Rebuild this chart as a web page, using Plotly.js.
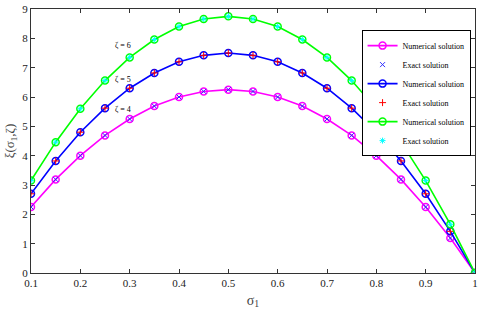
<!DOCTYPE html>
<html><head><meta charset="utf-8">
<script src="https://cdn.plot.ly/plotly-3.0.1.min.js"></script>
<style>body{margin:0;background:#fff}#c{width:480px;height:320px}</style>
</head><body><div id="c"></div>
<script>
const sigma = [0.1,0.15,0.2,0.25,0.3,0.35,0.4,0.45,0.5,0.55,0.6,0.65,0.7,0.75,0.8,0.85,0.9,0.95,1];
const xi4 = [2.25,3.19,4.0,4.69,5.25,5.69,6.0,6.19,6.25,6.19,6.0,5.69,5.25,4.69,4.0,3.19,2.25,1.19,0];
const xi5 = [2.7,3.82,4.8,5.62,6.3,6.82,7.2,7.42,7.5,7.42,7.2,6.82,6.3,5.62,4.8,3.82,2.7,1.42,0];
const xi6 = [3.15,4.46,5.6,6.56,7.35,7.96,8.4,8.66,8.75,8.66,8.4,7.96,7.35,6.56,5.6,4.46,3.15,1.66,0];
const xTicks = [0.1,0.2,0.3,0.4,0.5,0.6,0.7,0.8,0.9,1];
const xTickLabels = ['0.1','0.2','0.3','0.4','0.5','0.6','0.7','0.8','0.9','1'];
const yTicks = [0,1,2,3,4,5,6,7,8,9];
const curveLabels = ['ζ = 4','ζ = 5','ζ = 6'];
const labelPos = [[0.287,5.56],[0.287,6.61],[0.287,7.74]];

function num(y,color){return {x:sigma,y:y,mode:'lines+markers',name:'Numerical solution',
  line:{color:color,width:1.6},marker:{symbol:'circle-open',size:7,color:color,line:{width:1.5,color:color}}};}
function ex(y,color,sym){return {x:sigma,y:y,mode:'markers',name:'Exact solution',
  marker:{symbol:sym,size:5,color:color,line:{width:1,color:color}}};}
const data=[num(xi4,'#ff00ff'),ex(xi4,'#3030ff','x-thin-open'),
  num(xi5,'#0000ff'),ex(xi5,'#ff0000','cross-thin-open'),
  num(xi6,'#00ff00'),ex(xi6,'#00ffff','asterisk-open')];
const ann = curveLabels.map((t,i)=>({x:labelPos[i][0],y:labelPos[i][1],text:t,showarrow:false,
  font:{family:'Liberation Serif',size:8,color:'#000'}}));
const axBase={showline:true,linecolor:'#333',linewidth:1,mirror:'ticks',ticks:'inside',ticklen:4,tickcolor:'#333',
  showgrid:false,zeroline:false,tickfont:{family:'Liberation Serif',size:11,color:'#222'}};
const layout={width:480,height:320,margin:{l:31,r:5,t:9,b:47},paper_bgcolor:'#fff',plot_bgcolor:'#fff',
  showlegend:true,
  legend:{x:0.99,y:0.92,xanchor:'right',yanchor:'top',bgcolor:'#fff',bordercolor:'#000',borderwidth:1,
    font:{family:'Liberation Serif',size:8,color:'#000'},tracegroupgap:0,itemwidth:30},
  xaxis:Object.assign({},axBase,{range:[0.1,1],tickvals:xTicks,ticktext:xTickLabels,automargin:false,
    title:{text:'σ<sub>1</sub>',font:{family:'Liberation Serif',size:14},standoff:6}}),
  yaxis:Object.assign({},axBase,{range:[0,9],tickvals:yTicks,automargin:false,
    title:{text:'ξ(σ<sub>1</sub>,ζ)',font:{family:'Liberation Serif',size:13},standoff:4}}),
  annotations:ann};
Plotly.newPlot('c',data,layout,{displayModeBar:false});
</script></body></html>
